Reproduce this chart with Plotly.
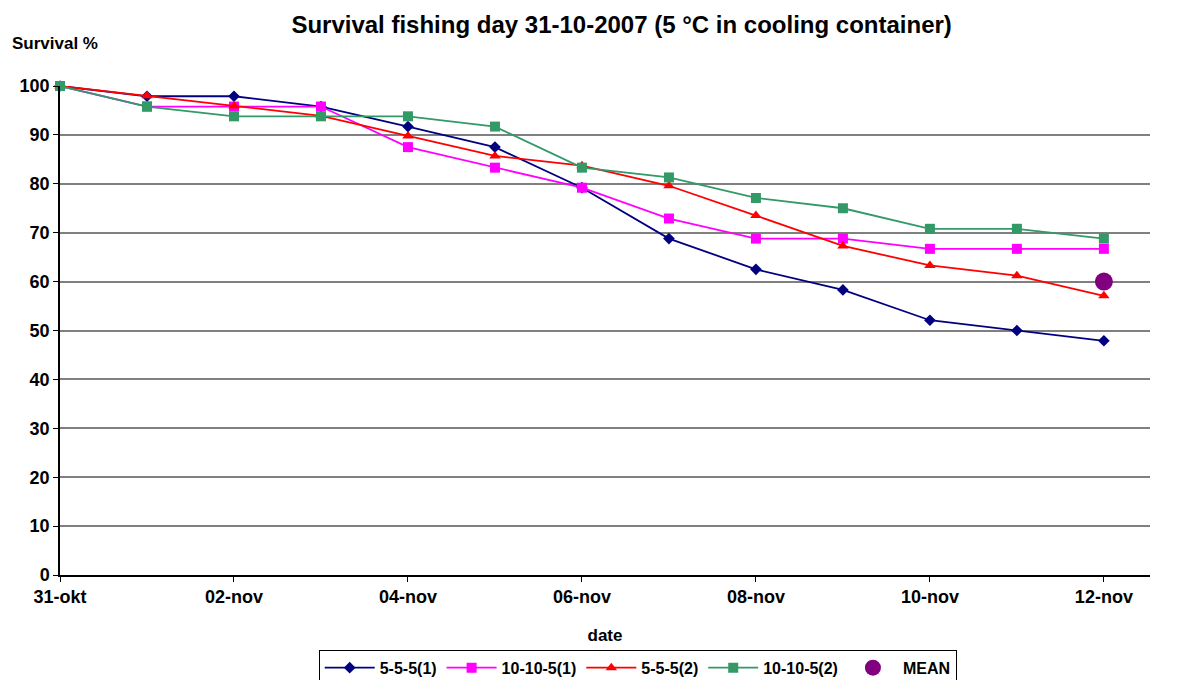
import plotly.graph_objects as go

# day labels, 31 Oct 2007 .. 12 Nov 2007
days = ["31-okt", "01-nov", "02-nov", "03-nov", "04-nov", "05-nov", "06-nov",
        "07-nov", "08-nov", "09-nov", "10-nov", "11-nov", "12-nov"]
tick_days = ["31-okt", "02-nov", "04-nov", "06-nov", "08-nov", "10-nov", "12-nov"]

s555_1 = [100, 97.9, 97.9, 95.8, 91.7, 87.5, 79.2, 68.8, 62.5, 58.3, 52.1, 50.0, 47.9]
s10105_1 = [100, 95.8, 95.8, 95.8, 87.5, 83.3, 79.2, 72.9, 68.8, 68.8, 66.7, 66.7, 66.7]
s555_2 = [100, 98.0, 95.9, 93.9, 89.8, 85.7, 83.7, 79.6, 73.5, 67.3, 63.3, 61.2, 57.1]
s10105_2 = [100, 95.8, 93.8, 93.8, 93.8, 91.7, 83.3, 81.3, 77.1, 75.0, 70.8, 70.8, 68.8]
mean_day = ["12-nov"]
mean_val = [60.0]

FONT = "Liberation Sans, Arial, sans-serif"

series = [
    ("5-5-5(1)", s555_1, "#000080", "diamond", 9),
    ("10-10-5(1)", s10105_1, "#FF00FF", "square", 10),
    ("5-5-5(2)", s555_2, "#FF0000", "triangle-up", 10),
    ("10-10-5(2)", s10105_2, "#339966", "square", 10),
]

fig = go.Figure()
for name, vals, color, symbol, size in series:
    fig.add_trace(go.Scatter(
        x=days, y=vals, name="<b>%s</b>" % name, mode="lines+markers",
        line=dict(color=color, width=1.8),
        marker=dict(symbol=symbol, size=size, color=color),
        cliponaxis=False,
    ))

fig.add_trace(go.Scatter(
    x=mean_day, y=mean_val, name="<b>MEAN</b>", mode="markers",
    marker=dict(symbol="circle", size=18, color="#800080"),
    cliponaxis=False,
))

# the page puts the figure 8px in from the top-left corner, so size/margins allow for it
fig.update_layout(
    width=1171, height=672,
    margin=dict(l=52, r=29, t=78, b=105, autoexpand=False),
    paper_bgcolor="white", plot_bgcolor="white",
    font=dict(family=FONT, size=17, color="black"),
    title=dict(text="<b>Survival fishing day 31-10-2007 (5 °C in cooling container)</b>",
               x=0.524, xanchor="center", y=0.975, yanchor="middle",
               font=dict(size=24)),
    showlegend=True,
    legend=dict(orientation="h", x=0.530, xanchor="center", y=-0.153, yanchor="top",
                bordercolor="black", borderwidth=1, font=dict(size=16),
                itemwidth=50, tracegroupgap=0),
    annotations=[dict(text="<b>Survival %</b>", xref="paper", yref="paper",
                      x=-0.046, y=1.086, xanchor="left", yanchor="middle",
                      showarrow=False, font=dict(size=17))],
)

fig.update_xaxes(
    type="category", categoryorder="array", categoryarray=days,
    range=[0, 12.53], tickvals=tick_days, ticktext=["<b>%s</b>" % d for d in tick_days],
    showline=True, linecolor="black", linewidth=1.5,
    ticks="outside", ticklen=5, tickcolor="black",
    showgrid=False, zeroline=False, automargin=False,
    title=dict(text="<b>date</b>", font=dict(size=17), standoff=23),
    tickfont=dict(size=18),
)
fig.update_yaxes(
    range=[0, 100],
    tickvals=list(range(0, 101, 10)),
    ticktext=["<b>%d</b>" % v for v in range(0, 101, 10)],
    showline=True, linecolor="black", linewidth=1.5,
    ticks="outside", ticklen=5, tickcolor="black",
    showgrid=True, gridcolor="#808080", gridwidth=1.5,
    zeroline=False, automargin=False, tickfont=dict(size=18),
)

fig.write_html("out.html")
